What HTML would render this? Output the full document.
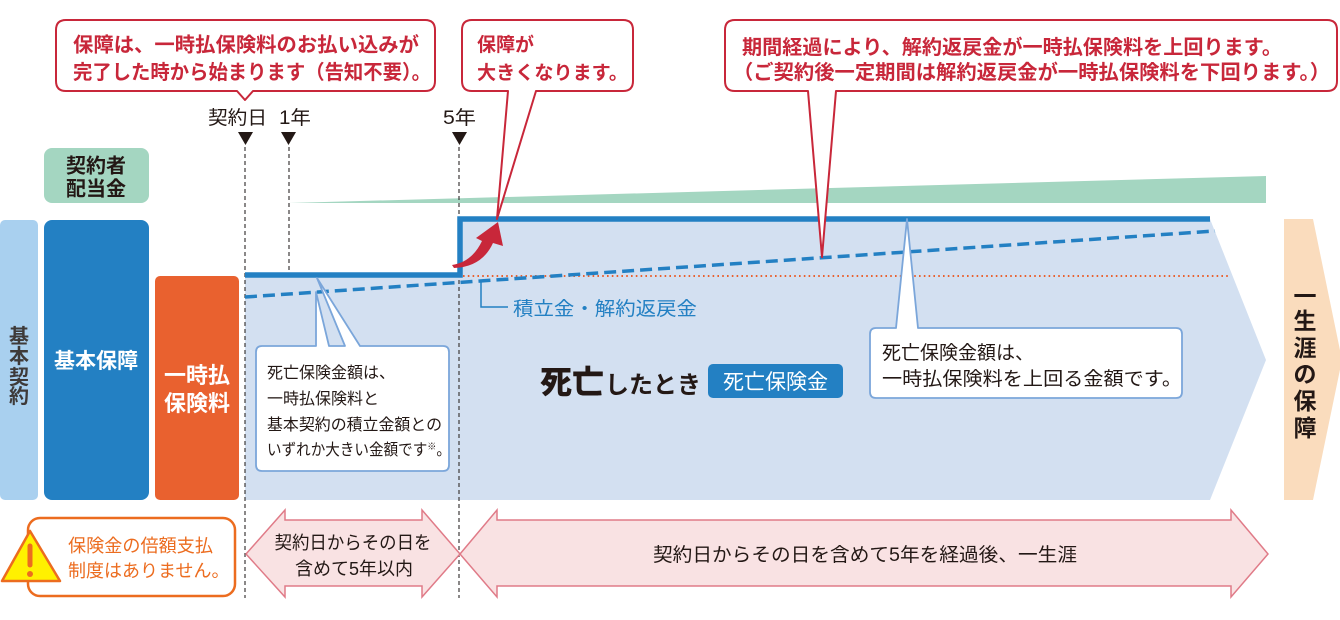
<!DOCTYPE html>
<html><head><meta charset="utf-8">
<style>
html,body{margin:0;padding:0;background:#fff;}
svg{display:block;}
text{font-family:"Liberation Sans","Noto Sans CJK JP",sans-serif;}
.b{font-weight:700;}
</style></head>
<body>
<svg width="1340" height="620" viewBox="0 0 1340 620" xmlns="http://www.w3.org/2000/svg">
<!-- left columns -->
<rect x="0" y="220" width="38" height="280" rx="5" fill="#a9d0ef"/>
<rect x="44" y="148" width="105" height="55" rx="8" fill="#a4d6c1"/>
<rect x="44" y="220" width="105" height="280" rx="8" fill="#2380c3"/>
<rect x="155" y="276" width="84" height="224" rx="5" fill="#e9612f"/>
<g class="b" font-size="20" fill="#3e3a39" text-anchor="middle">
<text x="19" y="343">基</text><text x="19" y="363">本</text><text x="19" y="384">契</text><text x="19" y="403">約</text>
</g>
<text class="b" x="96" y="172.5" font-size="20" fill="#231815" text-anchor="middle">契約者</text>
<text class="b" x="96" y="195.5" font-size="20" fill="#231815" text-anchor="middle">配当金</text>
<text class="b" x="96" y="368" font-size="21" fill="#fff" text-anchor="middle">基本保障</text>
<text class="b" x="197" y="383" font-size="22" fill="#fff" text-anchor="middle">一時払</text>
<text class="b" x="197" y="411" font-size="22" fill="#fff" text-anchor="middle">保険料</text>

<!-- chart fill -->
<polygon points="245,275 459,275 459,219 1210,219 1266,360 1210,500 245,500" fill="#d3e0f1"/>
<!-- green wedge -->
<polygon points="289,203 1266,176 1266,203" fill="#a4d6c1"/>
<!-- right peach arrow -->
<polygon points="1284,219 1313,219 1342,360 1313,500 1284,500" fill="#fadcbd"/>
<g class="b" font-size="23" fill="#231815" text-anchor="middle">
<text x="1305" y="304">一</text><text x="1305" y="329">生</text><text x="1305" y="356">涯</text><text x="1305" y="382">の</text><text x="1305" y="409">保</text><text x="1305" y="436">障</text>
</g>

<!-- vertical dashed lines -->
<g stroke="#3e3a39" stroke-width="1.2" stroke-dasharray="4,3">
<line x1="245" y1="147" x2="245" y2="598"/>
<line x1="289" y1="147" x2="289" y2="273"/>
<line x1="459" y1="147" x2="459" y2="598"/>
</g>
<!-- orange dotted -->
<line x1="463" y1="276" x2="1230" y2="276" stroke="#e9612f" stroke-width="2" stroke-dasharray="1.6,3.2"/>
<!-- dashed blue -->
<line x1="245" y1="297" x2="1215" y2="231" stroke="#2380c3" stroke-width="3.5" stroke-dasharray="12,6"/>
<!-- step line -->
<path d="M245,275 H460 V219 H1210" fill="none" stroke="#2380c3" stroke-width="5.5"/>

<!-- timeline labels -->
<g font-size="19" fill="#231815">
<text x="208" y="124" textLength="59" lengthAdjust="spacingAndGlyphs">契約日</text>
<text x="279" y="124" textLength="32" lengthAdjust="spacingAndGlyphs">1年</text>
<text x="443" y="124" textLength="33" lengthAdjust="spacingAndGlyphs">5年</text>
</g>
<g fill="#231815">
<polygon points="238,132 253,132 245.5,145"/>
<polygon points="281,132 296,132 288.5,145"/>
<polygon points="452,132 467,132 459.5,145"/>
</g>

<!-- red callouts -->
<g fill="#fff" stroke="#c8273a" stroke-width="2" stroke-linejoin="round">
<path d="M66,20 H425 Q435,20 435,30 V81 Q435,91 425,91 H253 L245,100 L237,91 H66 Q56,91 56,81 V30 Q56,20 66,20 Z"/>
<path d="M472,20 H623 Q633,20 633,30 V81 Q633,91 623,91 H536 L497,219 L508,91 H472 Q462,91 462,81 V30 Q462,20 472,20 Z"/>
<path d="M735,20 H1327 Q1337,20 1337,30 V81 Q1337,91 1327,91 H836 L822,257 L808,91 H735 Q725,91 725,81 V30 Q725,20 735,20 Z"/>
</g>
<g class="b" font-size="20" fill="#c8273a">
<text x="73" y="51.5" textLength="346" lengthAdjust="spacingAndGlyphs">保障は、一時払保険料のお払い込みが</text>
<text x="73" y="79" textLength="358" lengthAdjust="spacingAndGlyphs">完了した時から始まります（告知不要）。</text>
<text x="477" y="51" font-size="19">保障が</text>
<text x="477" y="79" font-size="19" textLength="151" lengthAdjust="spacingAndGlyphs">大きくなります。</text>
<text x="742" y="54" textLength="540" lengthAdjust="spacingAndGlyphs">期間経過により、解約返戻金が一時払保険料を上回ります。</text>
<text x="733" y="79" textLength="597" lengthAdjust="spacingAndGlyphs">（ご契約後一定期間は解約返戻金が一時払保険料を下回ります。）</text>
</g>

<!-- red curved arrow -->
<path d="M452,265 Q472,262 482,241 L476,238 L498,222 L503,246 L493,243 Q482,267 454,268 Z" fill="#c8273a"/>

<!-- 積立金 label -->
<polyline points="481,282 481,307 508,307" fill="none" stroke="#2380c3" stroke-width="1.5"/>
<text x="513" y="315" font-size="19" fill="#2380c3" textLength="184" lengthAdjust="spacingAndGlyphs">積立金・解約返戻金</text>

<!-- blue callouts -->
<g fill="#fff" stroke="#7ba6da" stroke-width="1.8" stroke-linejoin="round">
<path d="M262,346 H316 L316,292 L329,346 H345 L317,278 L360,346 H443 Q449,346 449,352 V465 Q449,471 443,471 H262 Q256,471 256,465 V352 Q256,346 262,346 Z"/>
<path d="M876,328 H896 L907,219 L918,328 H1176 Q1182,328 1182,334 V392 Q1182,398 1176,398 H876 Q870,398 870,392 V334 Q870,328 876,328 Z"/>
</g>
<g font-size="16" fill="#231815">
<text x="267" y="378">死亡保険金額は、</text>
<text x="267" y="404">一時払保険料と</text>
<text x="267" y="430" textLength="175" lengthAdjust="spacingAndGlyphs">基本契約の積立金額との</text>
<text x="267" y="455" textLength="184" lengthAdjust="spacingAndGlyphs">いずれか大きい金額です<tspan font-size="10" dy="-5">※</tspan><tspan dy="5">。</tspan></text>
</g>
<g font-size="19" fill="#231815">
<text x="882" y="359">死亡保険金額は、</text>
<text x="882" y="385" textLength="300" lengthAdjust="spacingAndGlyphs">一時払保険料を上回る金額です。</text>
</g>

<!-- death -->
<text x="540" y="393" font-size="32" font-weight="900" fill="#231815">死亡</text>
<text x="605" y="393" font-size="24" class="b" fill="#231815" textLength="96" lengthAdjust="spacingAndGlyphs">したとき</text>
<rect x="708" y="364" width="135" height="34" rx="5" fill="#2380c3"/>
<text x="775.5" y="389" font-size="21" fill="#fff" text-anchor="middle">死亡保険金</text>

<!-- bottom warning -->
<rect x="28" y="518" width="207" height="78" rx="12" fill="#fff" stroke="#ec6c1f" stroke-width="2.5"/>
<polygon points="30,531 2,581 60,581" fill="#fff100" stroke="#ec6c1f" stroke-width="2.5" stroke-linejoin="round"/>
<line x1="30" y1="546" x2="30" y2="565" stroke="#ec6c1f" stroke-width="5" stroke-linecap="round"/>
<circle cx="30" cy="574" r="3" fill="#ec6c1f"/>
<text x="68" y="552" font-size="18" fill="#ec6c1f" textLength="145" lengthAdjust="spacingAndGlyphs">保険金の倍額支払</text>
<text x="68" y="577" font-size="18" fill="#ec6c1f">制度はありません。</text>

<!-- bottom arrows -->
<g fill="#f9e2e3" stroke="#e07b88" stroke-width="1.5" stroke-linejoin="miter">
<polygon points="246,554 285,510 285,520 422,520 422,510 460,554 422,597 422,586 285,586 285,597"/>
<polygon points="460,554 497,510 497,520 1231,520 1231,510 1268,554 1231,597 1231,586 497,586 497,597"/>
</g>
<text x="353" y="549" font-size="18" fill="#231815" text-anchor="middle" textLength="157" lengthAdjust="spacingAndGlyphs">契約日からその日を</text>
<text x="354" y="575" font-size="18" fill="#231815" text-anchor="middle" textLength="118" lengthAdjust="spacingAndGlyphs">含めて5年以内</text>
<text x="865" y="561" font-size="19" fill="#231815" text-anchor="middle" textLength="424" lengthAdjust="spacingAndGlyphs">契約日からその日を含めて5年を経過後、一生涯</text>
</svg>
</body></html>
